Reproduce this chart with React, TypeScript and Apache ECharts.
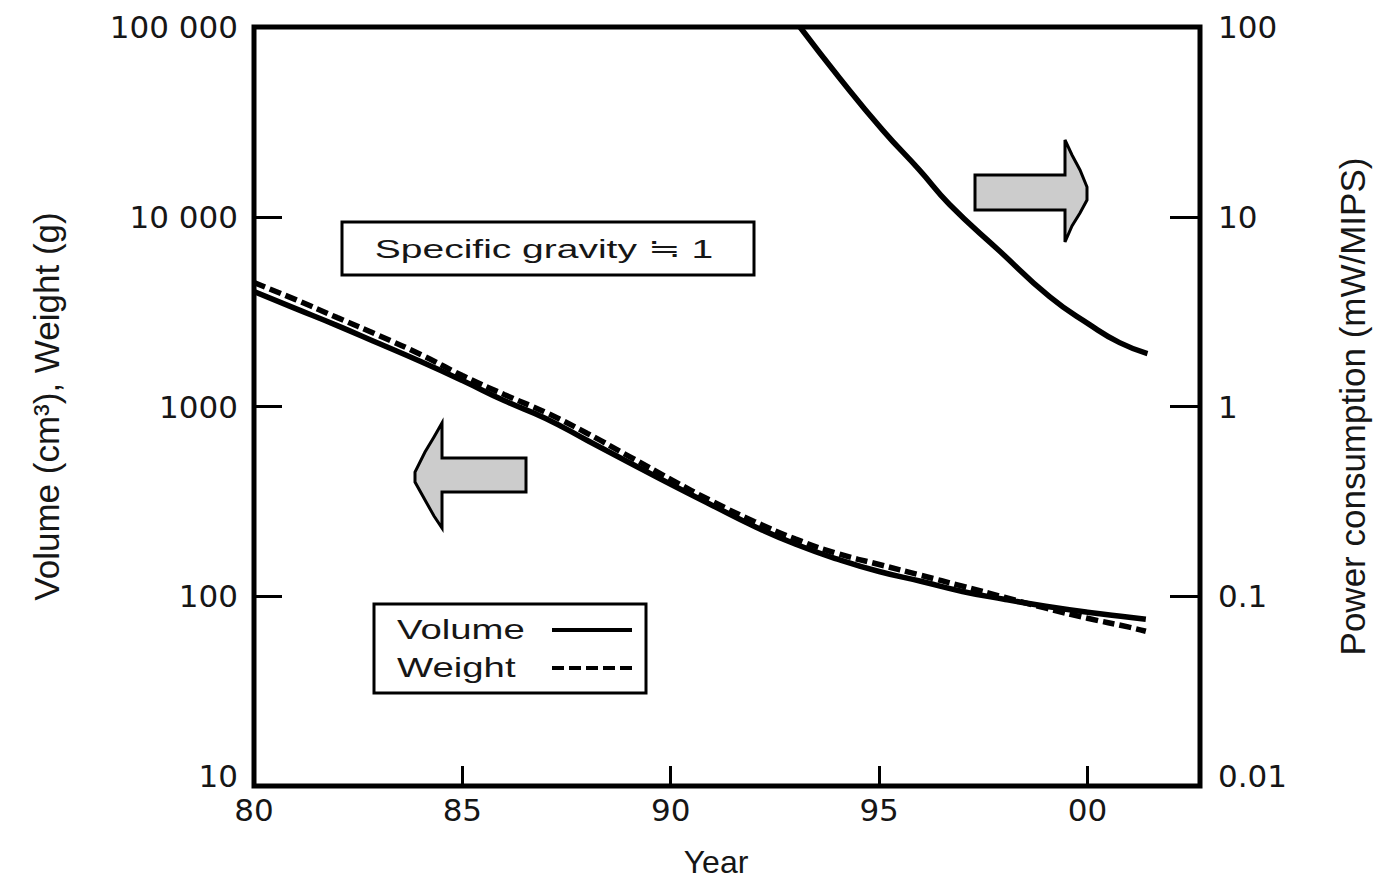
import React, { useEffect, useRef } from "react";
import * as echarts from "echarts";

// ---- data ----
const yearTicks = [80, 85, 90, 95, 100];
const leftTicks = [10, 100, 1000, 10000, 100000];
const rightTicks = [0.01, 0.1, 1, 10, 100];

const sizeYears = [80, 81, 82, 83, 84, 85, 86, 87, 88, 89, 90, 91, 92, 93, 94, 95, 96, 97, 98, 99, 100, 101, 101.4];
const volumeValues = [4030, 3280, 2669, 2146, 1725, 1370, 1075, 865, 662, 507, 389, 301, 234, 188, 157, 135, 120, 106, 96.4, 88.6, 82.4, 77.5, 75.6];
const weightValues = [4494, 3658, 2940, 2364, 1878, 1456, 1157, 930, 721, 546, 413, 316, 248, 200, 168, 147, 129, 113, 98.8, 86.5, 76.6, 68.7, 65.4];

const powerYears = [93.1, 94.05, 95.08, 95.97, 96.69, 97.89, 99.09, 100.05, 100.77, 101.44];
const powerValues = [100, 53.9, 28.7, 17.6, 11.6, 6.6, 3.79, 2.7, 2.17, 1.9];

const TICK_FONT = "DejaVu Sans";
const NAME_FONT = "Liberation Sans";

function fmtLeft(v: number): string {
  if (v >= 10000) {
    const s = String(Math.round(v));
    return s.slice(0, s.length - 3) + " " + s.slice(s.length - 3);
  }
  return String(Math.round(v));
}

function fmtRight(v: number): string {
  return String(Number(v.toPrecision(2)));
}

export default function App() {
  const ref = useRef<HTMLDivElement>(null);
  useEffect(() => {
    if (!ref.current) return;
    const chart = echarts.init(ref.current, undefined, { renderer: "svg" });
    const textColor = "#161616";
    const option: any = {
      animation: false,
      backgroundColor: "#ffffff",
      textStyle: { fontFamily: TICK_FONT, color: textColor },
      grid: {
        left: 254,
        right: 182,
        top: 27,
        bottom: 95,
        show: true,
        borderColor: "#000",
        borderWidth: 5,
        backgroundColor: "transparent",
      },
      xAxis: {
        type: "value",
        min: 80,
        max: 102.7,
        interval: 5,
        name: "Year",
        nameLocation: "middle",
        nameGap: 60,
        nameTextStyle: { fontFamily: NAME_FONT, fontSize: 32, color: textColor, padding: [0, 22, 0, 0] },
        axisLine: { show: false },
        splitLine: { show: false },
        axisTick: {
          show: true,
          inside: true,
          length: 20,
          lineStyle: { color: "#000", width: 3 },
          customValues: yearTicks,
        },
        axisLabel: {
          show: true,
          margin: 8,
          fontSize: 31,
          color: textColor,
          fontFamily: TICK_FONT,
          customValues: yearTicks,
          formatter: (v: number) => String(Math.round(v) % 100).padStart(2, "0"),
        },
      },
      yAxis: [
        {
          type: "log",
          logBase: 10,
          min: leftTicks[0],
          max: leftTicks[leftTicks.length - 1],
          position: "left",
          name: "Volume (cm³), Weight (g)",
          nameLocation: "middle",
          nameRotate: 90,
          nameGap: 190,
          nameTextStyle: { fontFamily: NAME_FONT, fontSize: 35, color: textColor },
          axisLine: { show: false },
          splitLine: { show: false },
          minorTick: { show: false },
          axisTick: { show: true, inside: true, length: 28, lineStyle: { color: "#000", width: 3 } },
          axisLabel: {
            margin: 16,
            fontSize: 31,
            color: textColor,
            fontFamily: TICK_FONT,
            formatter: (v: number) => (Math.round(v) === 10 ? "{low|10}" : fmtLeft(v)),
            rich: { low: { fontSize: 31, fontFamily: TICK_FONT, color: textColor, padding: [0, 0, 20, 0] } },
          },
        },
        {
          type: "log",
          logBase: 10,
          min: rightTicks[0],
          max: rightTicks[rightTicks.length - 1],
          position: "right",
          name: "Power consumption (mW/MIPS)",
          nameLocation: "middle",
          nameRotate: 90,
          nameGap: 135,
          nameTextStyle: { fontFamily: NAME_FONT, fontSize: 35, color: textColor },
          axisLine: { show: false },
          splitLine: { show: false },
          minorTick: { show: false },
          axisTick: { show: true, inside: true, length: 30, lineStyle: { color: "#000", width: 3 } },
          axisLabel: {
            margin: 18,
            fontSize: 31,
            color: textColor,
            fontFamily: TICK_FONT,
            formatter: (v: number) => (v < 0.05 ? "{low|" + fmtRight(v) + "}" : fmtRight(v)),
            rich: { low: { fontSize: 31, fontFamily: TICK_FONT, color: textColor, padding: [0, 0, 20, 0] } },
          },
        },
      ],
      series: [
        {
          name: "Volume",
          type: "line",
          yAxisIndex: 0,
          smooth: true,
          showSymbol: false,
          symbol: "none",
          lineStyle: { color: "#000", width: 5.5 },
          data: sizeYears.map((y, i) => [y, volumeValues[i]]),
          z: 3,
        },
        {
          name: "Weight",
          type: "line",
          yAxisIndex: 0,
          smooth: true,
          showSymbol: false,
          symbol: "none",
          lineStyle: { color: "#000", width: 5.5, type: [12, 5] },
          data: sizeYears.map((y, i) => [y, weightValues[i]]),
          z: 3,
        },
        {
          name: "Power consumption",
          type: "line",
          yAxisIndex: 1,
          smooth: true,
          showSymbol: false,
          symbol: "none",
          lineStyle: { color: "#000", width: 5.5 },
          data: powerYears.map((y, i) => [y, powerValues[i]]),
          z: 3,
        },
      ],
      graphic: [
        // Specific gravity box
        {
          type: "rect",
          shape: { x: 342, y: 222, width: 412, height: 53 },
          style: { fill: "#fff", stroke: "#000", lineWidth: 3 },
          z: 10,
        },
        {
          type: "text",
          x: 544,
          y: 249,
          scaleX: 1.5,
          style: {
            text: "Specific gravity ≒ 1",
            font: "26px 'Liberation Sans', Arial, sans-serif",
            fill: textColor,
            textAlign: "center",
            textVerticalAlign: "middle",
          },
          z: 11,
        },
        // Legend box
        {
          type: "rect",
          shape: { x: 374, y: 604, width: 272, height: 89 },
          style: { fill: "#fff", stroke: "#000", lineWidth: 3 },
          z: 10,
        },
        {
          type: "text",
          x: 397,
          y: 630,
          scaleX: 1.42,
          style: {
            text: "Volume",
            font: "27px 'Liberation Sans', Arial, sans-serif",
            fill: textColor,
            textAlign: "left",
            textVerticalAlign: "middle",
          },
          z: 11,
        },
        {
          type: "text",
          x: 397,
          y: 668,
          scaleX: 1.42,
          style: {
            text: "Weight",
            font: "27px 'Liberation Sans', Arial, sans-serif",
            fill: textColor,
            textAlign: "left",
            textVerticalAlign: "middle",
          },
          z: 11,
        },
        {
          type: "line",
          shape: { x1: 552, y1: 630, x2: 632, y2: 630 },
          style: { stroke: "#000", lineWidth: 4 },
          z: 11,
        },
        {
          type: "line",
          shape: { x1: 552, y1: 668, x2: 632, y2: 668 },
          style: { stroke: "#000", lineWidth: 4, lineDash: [12, 5] },
          z: 11,
        },
        // Right-pointing arrow (power axis)
        {
          type: "polygon",
          shape: {
            points: [
              [975, 175], [1065, 175], [1065, 140], [1072, 155], [1080, 170], [1087, 187],
              [1087, 200], [1080, 213], [1072, 226], [1065, 242], [1065, 210], [975, 210],
            ],
          },
          style: { fill: "#cccccc", stroke: "#000", lineWidth: 3, lineJoin: "miter" },
          z: 10,
        },
        // Left-pointing arrow (volume/weight axis)
        {
          type: "polygon",
          shape: {
            points: [
              [526, 458], [442, 458], [442, 423], [434, 437], [425, 452], [415, 472],
              [415, 482], [425, 500], [434, 516], [442, 528], [442, 492], [526, 492],
            ],
          },
          style: { fill: "#cccccc", stroke: "#000", lineWidth: 3, lineJoin: "miter" },
          z: 10,
        },
      ],
    };
    chart.setOption(option);
    return () => {
      chart.dispose();
    };
  }, []);
  return (
    <div
      ref={ref}
      style={{ position: "fixed", left: 0, top: 0, width: 1382, height: 883, background: "#fff" }}
    />
  );
}
